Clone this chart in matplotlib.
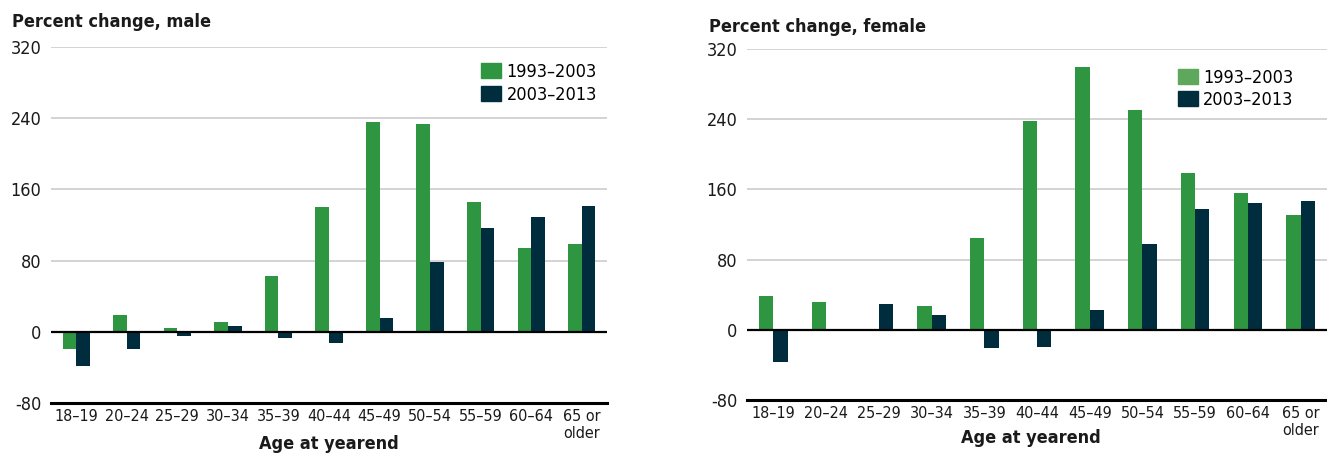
import matplotlib
matplotlib.use("Agg")
import matplotlib.pyplot as plt
from matplotlib import font_manager as fm
from matplotlib.patches import Patch
import numpy as np

# Data
ages = ["18–19", "20–24", "25–29", "30–34", "35–39", "40–44",
        "45–49", "50–54", "55–59", "60–64", "65 or\nolder"]
male_9303 = [-19, 19, 4.5, 11, 63, 140, 235.5, 234, 146, 94, 99]
male_0313 = [-38, -19, -4.5, 7, -7.5, -13, 16, 78.5, 117, 129, 141]
female_9303 = [39, 32, 1, 27, 105, 238, 300, 251, 179, 156, 131]
female_0313 = [-37, 0.5, 29.5, 17, -20.5, -19.5, 23, 98, 138, 144, 147]
series_labels = ["1993–2003", "2003–2013"]
yticks = [-80, 0, 80, 160, 240, 320]

GREEN = "#2e9640"
NAVY = "#002d3e"
TXT = "#1a1a1a"

# narrow font if one is around
names = {f.name for f in fm.fontManager.ttflist}
narrow = [f for f in fm.fontManager.ttflist
          if "Narrow" in f.name or "ondensed" in f.fname]
if "Liberation Sans Narrow" in names:
    plt.rcParams["font.family"] = ["Liberation Sans Narrow", "DejaVu Sans"]
elif narrow:
    plt.rcParams["font.family"] = [narrow[0].name, "DejaVu Sans"]
    plt.rcParams["font.stretch"] = "condensed"
else:
    plt.rcParams["font.family"] = ["DejaVu Sans"]

fig = plt.figure(figsize=(13.27, 4.53), dpi=100)


def panel(rect, v1, v2, leg_green, leg_anchor):
    ax = fig.add_axes(rect)
    x = np.arange(len(ages))
    w = 0.27
    ax.bar(x - w / 2, v1, w, color=GREEN, zorder=3)
    ax.bar(x + w / 2, v2, w, color=NAVY, zorder=3)
    ax.set_xlim(-0.5, 10.5)
    ax.set_ylim(-80, 320)
    ax.set_yticks(yticks)
    ax.set_yticklabels([str(t) for t in yticks])
    ax.set_xticks(x)
    ax.set_xticklabels(ages, va="top", linespacing=1.0)
    ax.tick_params(axis="both", length=0, labelcolor=TXT)
    ax.tick_params(axis="y", pad=7, labelsize=13)
    ax.tick_params(axis="x", pad=4, labelsize=11.5)
    for t in yticks[2:]:
        ax.axhline(t, color="#d3d3d3", lw=1.4, zorder=1)
    ax.axhline(0, color="black", lw=1.6, zorder=4)
    for s in ["top", "right", "left"]:
        ax.spines[s].set_visible(False)
    ax.spines["bottom"].set_position(("data", -80))
    ax.spines["bottom"].set_linewidth(2.2)
    ax.spines["bottom"].set_color("black")
    handles = [Patch(color=leg_green), Patch(color=NAVY)]
    ax.legend(handles, series_labels, loc="upper right",
              bbox_to_anchor=leg_anchor, frameon=False, fontsize=13,
              handlelength=1.1, handleheight=0.9, handletextpad=0.3,
              labelspacing=0.25, borderaxespad=0)
    return ax


ax1 = panel([51 / 1327, 1 - 403 / 453, 556 / 1327, 356 / 453],
            male_9303, male_0313, GREEN, (0.995, 0.975))
ax2 = panel([747 / 1327, 1 - 400 / 453, 580 / 1327, 351 / 453],
            female_9303, female_0313, "#5ea85e", (0.955, 0.965))

fig.text(12 / 1327, 1 - 22 / 453, "Percent change, male", fontsize=13,
         fontweight="bold", color=TXT, va="center", ha="left")
fig.text(709 / 1327, 1 - 27 / 453, "Percent change, female", fontsize=13,
         fontweight="bold", color=TXT, va="center", ha="left")
fig.text(329 / 1327, 1 - 444 / 453, "Age at yearend", fontsize=13,
         fontweight="bold", color=TXT, va="center", ha="center")
fig.text(1031 / 1327, 1 - 438 / 453, "Age at yearend", fontsize=13,
         fontweight="bold", color=TXT, va="center", ha="center")

fig.savefig("out.png", dpi=100)
